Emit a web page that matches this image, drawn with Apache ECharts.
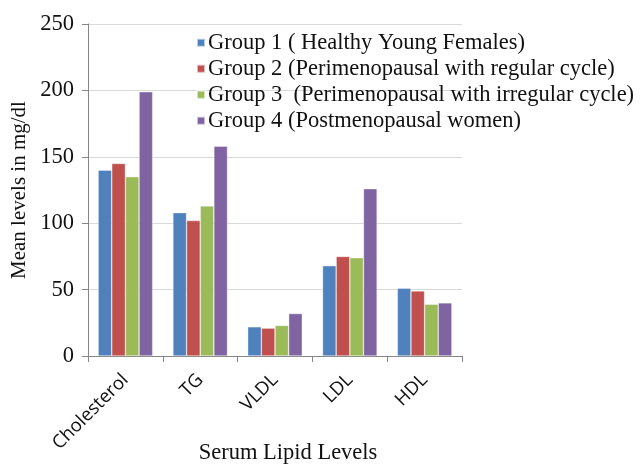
<!DOCTYPE html>
<html><head><meta charset="utf-8">
<script src="https://cdn.jsdelivr.net/npm/echarts@6/dist/echarts.min.js"></script>
<style>html,body{margin:0;padding:0;background:#fff}#c{width:641px;height:465px}</style>
</head><body><div id="c"></div>
<script>
const categories = ['Cholesterol', 'TG', 'VLDL', 'LDL', 'HDL'];
const seriesNames = ['Group 1 ( Healthy Young Females)', 'Group 2 (Perimenopausal with regular cycle)', 'Group 3  (Perimenopausal with irregular cycle)', 'Group 4 (Postmenopausal women)'];
const group1 = [140, 108, 22, 68, 51];
const group2 = [145, 102, 21, 75, 49];
const group3 = [135, 113, 23, 74, 39];
const group4 = [199, 158, 32, 126, 40];
const colors = ['#4F81BD', '#C0504D', '#9BBB59', '#8064A2'];
const values = [group1, group2, group3, group4];

const chart = echarts.init(document.getElementById('c'), null, {renderer: 'canvas'});
const serif = '"Liberation Serif", "DejaVu Serif", serif';
chart.setOption({
  animation: false,
  color: colors,
  grid: {left: 88, right: 179, top: 24, bottom: 109, containLabel: false, outerBoundsMode: 'none'},
  legend: {
    orient: 'vertical', left: 191, top: 25, itemGap: 0.5,
    itemWidth: 8, itemHeight: 8, icon: 'rect',
    textStyle: {fontFamily: serif, fontSize: 22.5, lineHeight: 25.5, color: '#111', padding: [0,0,0,-2]},
    data: seriesNames
  },
  xAxis: {
    type: 'category', data: categories,
    name: 'Serum Lipid Levels', nameLocation: 'middle', nameGap: 86, nameMoveOverlap: false,
    nameTextStyle: {fontFamily: serif, fontSize: 22.5, color: '#111', padding: [0, 0, 0, 26]},
    axisLine: {lineStyle: {color: '#868686'}},
    axisTick: {show: true, length: 6, lineStyle: {color: '#868686'}},
    axisLabel: {rotate: 45, fontFamily: '"Open Sans", "Liberation Sans", sans-serif', fontSize: 18.5, color: '#111', margin: 21, interval: 0}
  },
  yAxis: {
    type: 'value', min: 0, max: 250, interval: 50,
    name: 'Mean levels in mg/dl', nameLocation: 'middle', nameGap: 58, nameMoveOverlap: false,
    nameTextStyle: {fontFamily: serif, fontSize: 21, color: '#111'},
    axisLine: {show: true, lineStyle: {color: '#868686'}},
    axisTick: {show: true, length: 6, lineStyle: {color: '#868686'}},
    axisLabel: {fontFamily: serif, fontSize: 22.5, color: '#111', margin: 14},
    splitLine: {lineStyle: {color: '#d9d9d9', width: 1}}
  },
  series: seriesNames.map((n, i) => ({
    name: n, type: 'bar', data: values[i],
    barGap: '0%', barCategoryGap: '27%',
    itemStyle: {color: colors[i], borderColor: 'rgba(255,255,255,0.6)', borderWidth: 0.6}
  }))
});
</script></body></html>
